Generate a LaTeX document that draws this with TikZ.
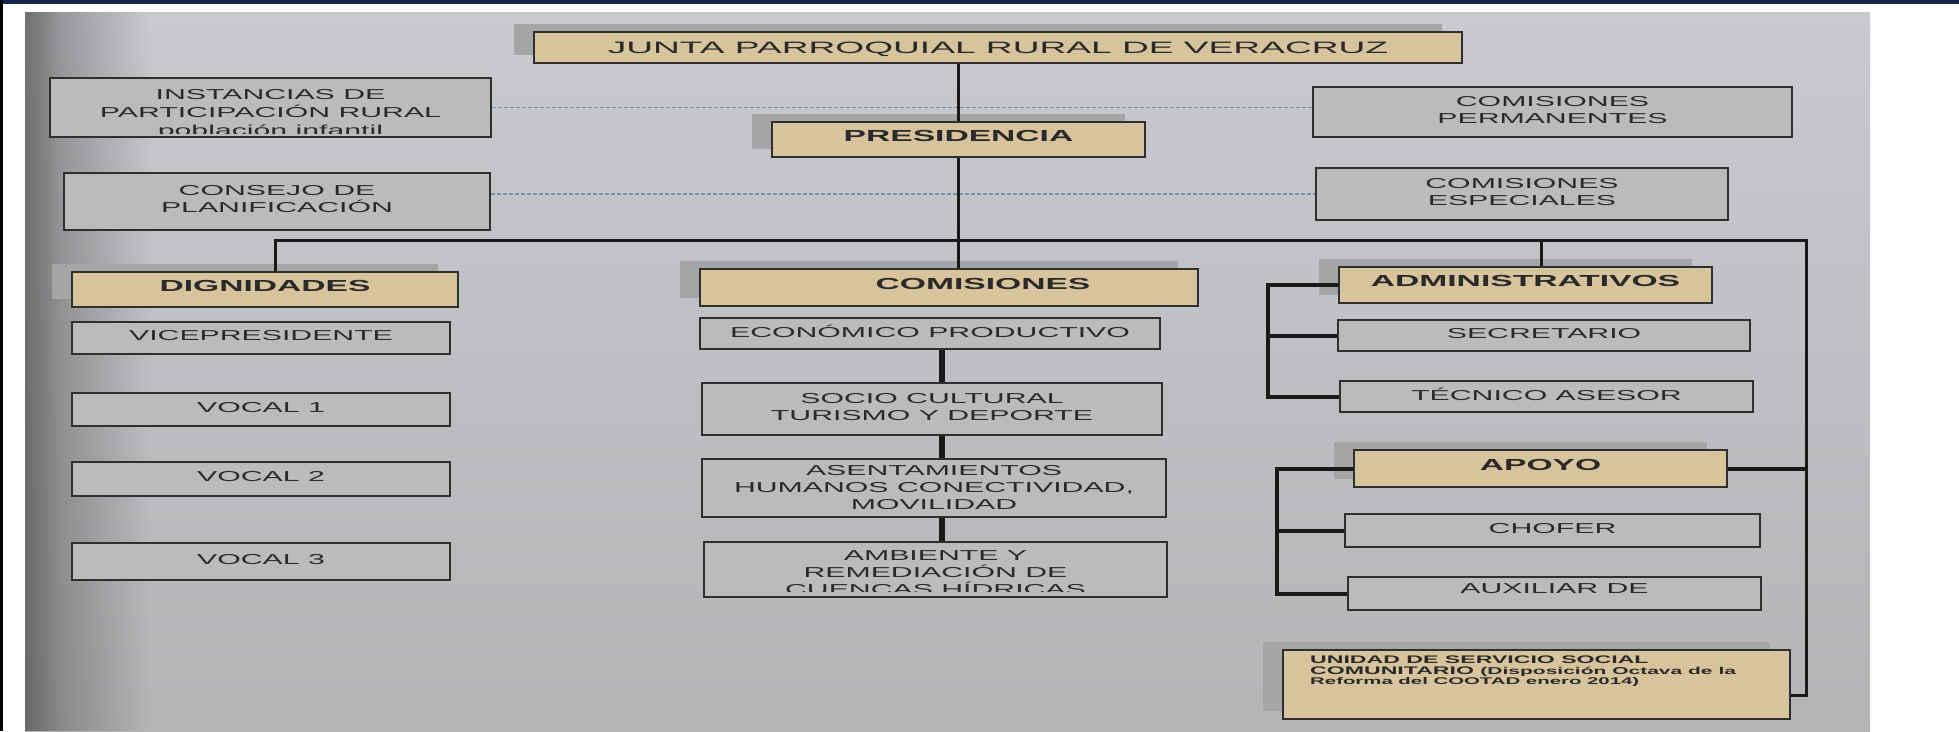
\documentclass[tikz,border=0pt]{standalone}
\usepackage{fontspec}
\setmainfont{Liberation Sans}[FakeStretch=2.1]
\newfontfamily\titlefont{Liberation Sans}[FakeStretch=2.25]
\usetikzlibrary{calc,shadows,fadings}

\definecolor{navyband}{HTML}{13284B}
\definecolor{papertop}{HTML}{C8CACE}
\definecolor{paperbot}{HTML}{B2B4B6}
\definecolor{boxgray}{HTML}{BBBBBB}
\definecolor{boxtan}{HTML}{D8C49C}
\definecolor{shadowgray}{HTML}{A4A5A7}
\definecolor{inkline}{HTML}{2F2F2F}
\definecolor{inktext}{HTML}{2A2A2A}
\definecolor{dashblue}{HTML}{7A8FB4}

\tikzfading[name=edgefade, left color=transparent!0, right color=transparent!100]

\tikzset{
	boxframe/.style={draw=inkline, line width=2pt, inner sep=0pt},
	graybox/.style={boxframe, fill=boxgray, text=inktext, align=center, text depth=5pt, font=\fontsize{14.4}{17}\selectfont},
	tanbox/.style={boxframe, fill=boxtan, text=inktext, text depth=7pt, font=\bfseries\fontsize{16}{18}\selectfont,
		general shadow={fill=shadowgray, shadow xshift=-20pt, shadow yshift=8.5pt}},
	cliptext/.style={anchor=north, inner sep=0pt, minimum width=0pt, minimum height=0pt, draw=none, fill=none,
		align=center, text=inktext, text depth=0pt, font=\fontsize{14.4}{17}\selectfont},
	bus/.style={draw=black!90, line width=3pt},
	bracket/.style={draw=black!90, line width=4pt},
	chain/.style={draw=black!90, line width=5.5pt},
	dline/.style={draw=dashblue, line width=1.2pt, dash pattern=on 4pt off 2pt},
}

\begin{document}
\begin{tikzpicture}[x=1pt, y=-1pt]
			%%%%% START %%%%%
			
			\useasboundingbox (0,0) rectangle (1959,731);
			\fill[white] (0,0) rectangle (1959,731);
			\fill[navyband] (0,0) rectangle (1959,4);
			\fill[black] (0,0) rectangle (2.5,731);
			\shade[top color=papertop, bottom color=paperbot] (25,12) rectangle (1870,731);
			\fill[black!75, path fading=edgefade, fill opacity=0.5] (25,12) rectangle (150,731);
			\fill[black!70, path fading=edgefade, fill opacity=0.35] (25,12) rectangle (60,731);
			
			% top
			\node[tanbox, minimum width=928pt, minimum height=31pt, text depth=0pt, font=\titlefont\fontsize{16.5}{18}\selectfont] (junta) at (998,47.5) {JUNTA PARROQUIAL RURAL DE VERACRUZ};
			\node[tanbox, minimum width=373pt, minimum height=35pt] (presi) at (958.5,139.5) {PRESIDENCIA};
			
			\node[boxframe, fill=boxgray, minimum width=441pt, minimum height=59pt, path picture={
				\clip ([yshift=4pt]path picture bounding box.south west) rectangle (path picture bounding box.north east);
				\node[cliptext, font=\fontsize{14.4}{18.3}\selectfont] at ([yshift=-10pt]path picture bounding box.north) {INSTANCIAS DE\\PARTICIPACIÓN RURAL\\población infantil};
			}] (inst) at (270.5,107.5) {};
			\node[graybox, minimum width=426pt, minimum height=57pt] (consejo) at (277,201.5) {CONSEJO DE\\PLANIFICACIÓN};
			\node[graybox, minimum width=479pt, minimum height=50pt] (cperm) at (1552.5,112) {COMISIONES\\PERMANENTES};
			\node[graybox, minimum width=412pt, minimum height=52pt] (cesp) at (1522,194) {COMISIONES\\ESPECIALES};
			
			\draw[dline] (inst.east) -- (inst.east -| cperm.west);
			\draw[dline] (consejo.east |- cesp.west) -- (cesp.west);
			
			% dignidades
			\node[tanbox, minimum width=386pt, minimum height=35pt] (dign) at (265,289.5) {DIGNIDADES};
			\node[graybox, minimum width=378pt, minimum height=32pt] (vice) at (261,338) {VICEPRESIDENTE};
			\node[graybox, minimum width=378pt, minimum height=33pt] (vocal1) at (261,409.5) {VOCAL 1};
			\node[graybox, minimum width=378pt, minimum height=34pt] (vocal2) at (261,479) {VOCAL 2};
			\node[graybox, minimum width=378pt, minimum height=37pt] (vocal3) at (261,561.5) {VOCAL 3};
			
			% comisiones
			\node[tanbox, minimum width=498pt, minimum height=37pt] (comis) at (949,287.5) {\hspace*{68pt}COMISIONES};
			\node[graybox, minimum width=460pt, minimum height=31pt] (econ) at (930,333.5) {ECONÓMICO PRODUCTIVO};
			\node[graybox, minimum width=460pt, minimum height=52pt] (socio) at (932,409) {SOCIO CULTURAL\\TURISMO Y DEPORTE};
			\node[graybox, minimum width=464pt, minimum height=58pt, text depth=2pt] (asent) at (934,488) {ASENTAMIENTOS\\HUMANOS CONECTIVIDAD,\\MOVILIDAD};
			\node[boxframe, fill=boxgray, minimum width=463pt, minimum height=55pt, path picture={
				\clip ([yshift=6pt]path picture bounding box.south west) rectangle (path picture bounding box.north east);
				\node[cliptext] at ([yshift=-8pt]path picture bounding box.north) {AMBIENTE Y\\REMEDIACIÓN DE\\CUENCAS HÍDRICAS};
			}] (ambi) at (935.5,569.5) {};
			
			% administrativos y apoyo
			\node[tanbox, minimum width=373pt, minimum height=36pt, text depth=9pt] (admin) at (1525.5,285) {ADMINISTRATIVOS};
			\node[graybox, minimum width=412pt, minimum height=31pt] (secre) at (1544,335.5) {SECRETARIO};
			\node[graybox, minimum width=413pt, minimum height=31pt] (tecni) at (1546.5,396.5) {TÉCNICO ASESOR};
			\node[tanbox, minimum width=373pt, minimum height=37pt] (apoyo) at (1540.5,468.5) {APOYO};
			\node[graybox, minimum width=415pt, minimum height=33pt] (chofer) at (1552.5,530.5) {CHOFER};
			\node[graybox, minimum width=413pt, minimum height=33pt, text depth=9pt] (auxi) at (1554.5,593.5) {AUXILIAR DE};
			\node[tanbox, minimum width=507pt, minimum height=69pt] (ussc) at (1536.5,684.5) {};
			\node[anchor=north west, inner sep=0pt, align=left, text=inktext, font=\bfseries\fontsize{11}{10.5}\selectfont] (usstext) at ($(ussc.north west)+(28,7)$) {UNIDAD DE SERVICIO SOCIAL\\COMUNITARIO {\fontsize{10}{10.5}\selectfont(Disposición Octava de la}\\{\fontsize{9.7}{10.5}\selectfont Reforma del COOTAD enero 2014)}};
			
			% lines
			\coordinate (bl) at (275,240);
			\coordinate (br) at (1806,240);
			\coordinate (ad) at (1541,240);
			\coordinate (uc) at (1806,695);
			\coordinate (ab) at (1268,0);
			\coordinate (pb) at (1277,0);
			\coordinate (cc) at (942,0);
			
			\draw[bus] (presi.north |- junta.south) -- (presi.north);
			\draw[bus] (presi.south) -- (presi.south |- comis.north);
			\draw[bus] (dign.north -| bl) -- (bl) -- (br) -- (uc) -- (uc -| ussc.east);
			\draw[bus] (ad) -- (ad |- admin.north);
			\draw[bus, line width=4pt] (apoyo.east) -- (apoyo.east -| br);
			
			\draw[chain] (econ.south -| cc) -- (socio.north -| cc);
			\draw[chain] (socio.south -| cc) -- (asent.north -| cc);
			\draw[chain] (asent.south -| cc) -- (ambi.north -| cc);
			
			\draw[bracket] (admin.west) -| (ab |- tecni.west) -- (tecni.west);
			\draw[bracket] (secre.west -| ab) -- (secre.west);
			\draw[bracket] (apoyo.west) -| (pb |- auxi.west) -- (auxi.west);
			\draw[bracket] (chofer.west -| pb) -- (chofer.west);
			
			%%%%% END %%%%%
\end{tikzpicture}
\end{document}
